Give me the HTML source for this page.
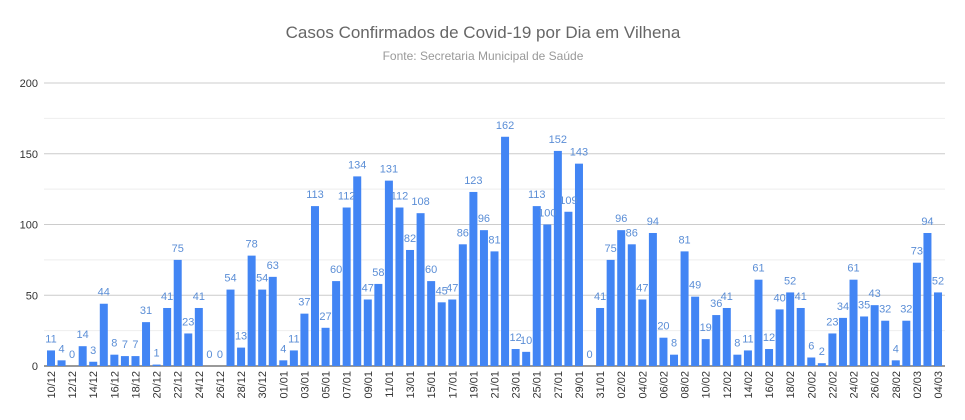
<!DOCTYPE html>
<html><head><meta charset="utf-8"><style>
html,body{margin:0;padding:0;background:#fff;}
svg{display:block;font-family:"Liberation Sans",Arial,sans-serif;}
</style></head><body>
<svg id="chart" width="965" height="420" viewBox="0 0 965 420">
<text x="483" y="38" text-anchor="middle" font-size="17" fill="#666">Casos Confirmados de Covid-19 por Dia em Vilhena</text>
<text x="483" y="60" text-anchor="middle" font-size="12" fill="#999">Fonte: Secretaria Municipal de Saúde</text>
<g id="grid"></g><g id="bars"></g><g id="labels"></g><g id="xaxis"></g>
</svg>
<script>
const categories = (function(){const c=[];for(let d=10;d<=31;d++)c.push(String(d).padStart(2,'0')+'/12');for(let d=1;d<=31;d++)c.push(String(d).padStart(2,'0')+'/01');for(let d=1;d<=28;d++)c.push(String(d).padStart(2,'0')+'/02');for(let d=1;d<=4;d++)c.push(String(d).padStart(2,'0')+'/03');return c;})();
const cases = [11,4,0,14,3,44,8,7,7,31,1,41,75,23,41,0,0,54,13,78,54,63,
4,11,37,113,27,60,112,134,47,58,131,112,82,108,60,45,47,86,123,96,81,162,12,10,113,100,152,109,143,0,41,
75,96,86,47,94,20,8,81,49,19,36,41,8,11,61,12,40,52,41,6,2,23,34,61,35,43,32,4,
32,73,94,52];
const yTicks = [0,50,100,150,200];
const ns="http://www.w3.org/2000/svg";
const x0=51, x1=938, y0=366, yTop=83, yMax=200;
const xs=i=>x0+i*(x1-x0)/(categories.length-1);
const ys=v=>y0-v*(y0-yTop)/yMax;
const grid=document.getElementById('grid'),bars=document.getElementById('bars'),labels=document.getElementById('labels'),xaxis=document.getElementById('xaxis');
for(let v=0;v<=yMax;v+=25){
 const l=document.createElementNS(ns,'line');
 
 
 l.setAttribute('x1',44);l.setAttribute('x2',945);l.setAttribute('y1',ys(v));l.setAttribute('y2',ys(v));
 l.setAttribute('stroke',v===0?'#333':(v%50===0?'#ccc':'#eee'));l.setAttribute('stroke-width',1);
 grid.appendChild(l);
}
yTicks.forEach(v=>{
 const t=document.createElementNS(ns,'text');
 
 
 t.setAttribute('x',38);t.setAttribute('y',ys(v)+4);t.setAttribute('text-anchor','end');t.setAttribute('font-size','11');t.setAttribute('fill','#333');
 t.textContent=v;grid.appendChild(t);
});
cases.forEach((v,i)=>{
 const x=xs(i);
 const r=document.createElementNS(ns,'rect');
 
 
 r.setAttribute('x',x-4);r.setAttribute('width',8);r.setAttribute('y',ys(v));r.setAttribute('height',y0-ys(v));r.setAttribute('fill','#4285f4');
 bars.appendChild(r);
 const t=document.createElementNS(ns,'text');
 
 
 t.setAttribute('x',x);t.setAttribute('y',ys(v)-8);t.setAttribute('text-anchor','middle');t.setAttribute('font-size','11');t.setAttribute('fill','#5b8ed6');
 t.textContent=v;labels.appendChild(t);
 if(i%2===0){
  const d=document.createElementNS(ns,'text');
  
  
  d.setAttribute('transform','translate('+(x+4)+',371) rotate(-90)');d.setAttribute('text-anchor','end');d.setAttribute('font-size','11');d.setAttribute('fill','#333');
  d.textContent=categories[i];xaxis.appendChild(d);
 }
});
</script>
</body></html>
